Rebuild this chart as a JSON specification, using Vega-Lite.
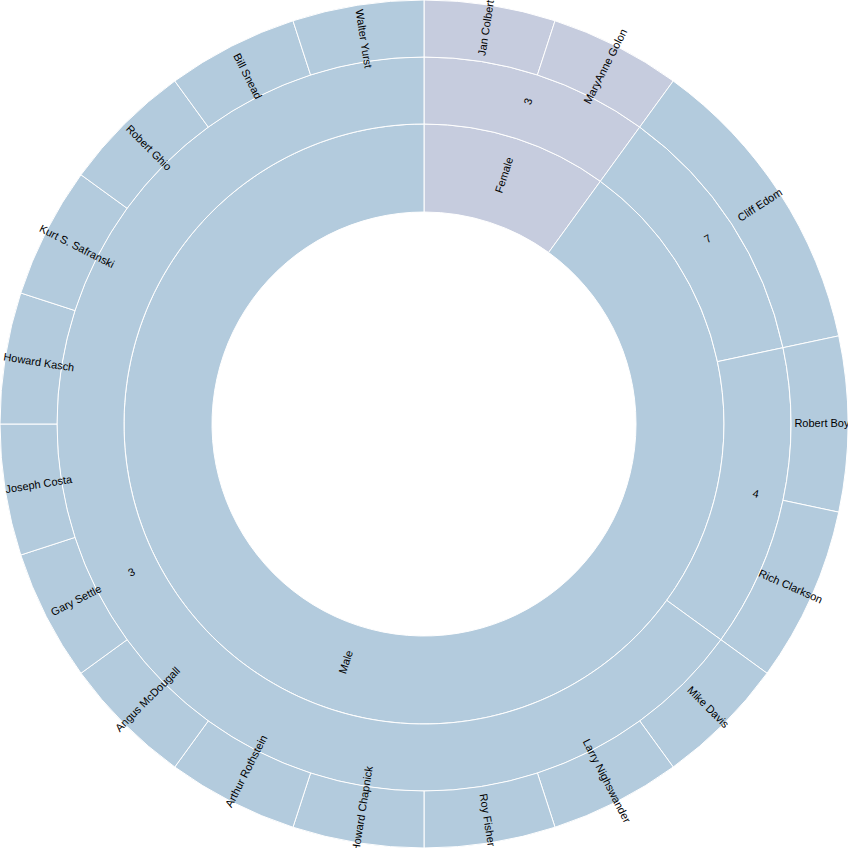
{
  "$schema": "https://vega.github.io/schema/vega-lite/v6.json",
  "width": 848,
  "height": 848,
  "padding": 0,
  "autosize": {"type": "none"},
  "background": "white",
  "view": {"stroke": null},
  "config": {"text": {"font": "Liberation Sans", "fontSize": 11, "color": "black", "align": "center", "baseline": "middle", "dx": 5.5}},
  "data": {
    "values": [
      {"gender": "Female", "group": "3", "name": "Jan Colbert", "count": 3},
      {"gender": "Female", "group": "3", "name": "MaryAnne Golon", "count": 3},
      {"gender": "Male", "group": "7", "name": "Cliff Edom", "count": 7},
      {"gender": "Male", "group": "4", "name": "Robert Boyd", "count": 4},
      {"gender": "Male", "group": "4", "name": "Rich Clarkson", "count": 4},
      {"gender": "Male", "group": "3", "name": "Mike Davis", "count": 3},
      {"gender": "Male", "group": "3", "name": "Larry Nighswander", "count": 3},
      {"gender": "Male", "group": "3", "name": "Roy Fisher", "count": 3},
      {"gender": "Male", "group": "3", "name": "Howard Chapnick", "count": 3},
      {"gender": "Male", "group": "3", "name": "Arthur Rothstein", "count": 3},
      {"gender": "Male", "group": "3", "name": "Angus McDougall", "count": 3},
      {"gender": "Male", "group": "3", "name": "Gary Settle", "count": 3},
      {"gender": "Male", "group": "3", "name": "Joseph Costa", "count": 3},
      {"gender": "Male", "group": "3", "name": "Howard Kasch", "count": 3},
      {"gender": "Male", "group": "3", "name": "Kurt S. Safranski", "count": 3},
      {"gender": "Male", "group": "3", "name": "Robert Ghio", "count": 3},
      {"gender": "Male", "group": "3", "name": "Bill Snead", "count": 3},
      {"gender": "Male", "group": "3", "name": "Walter Yurst", "count": 3}
    ]
  },
  "transform": [
    {"window": [{"op": "row_number", "as": "idx"}]},
    {"stack": "count", "groupby": [], "sort": [{"field": "idx"}], "as": ["t0", "t1"]}
  ],
  "layer": [
    {
      "mark": {"type": "arc", "innerRadius": 212, "outerRadius": 300, "stroke": "white", "strokeWidth": 1},
      "transform": [
        {"aggregate": [{"op": "min", "field": "t0", "as": "a0"}, {"op": "max", "field": "t1", "as": "a1"}], "groupby": ["gender"]}
      ],
      "encoding": {
        "theta": {"field": "a0", "type": "quantitative", "stack": null, "scale": {"domain": [0, 60], "range": [0, 6.283185307179586]}},
        "theta2": {"field": "a1"},
        "color": {"field": "gender", "type": "nominal", "legend": null, "scale": {"domain": ["Female", "Male"], "range": ["#c6ccde", "#b3cbdd"]}}
      }
    },
    {
      "mark": {"type": "arc", "innerRadius": 300, "outerRadius": 367, "stroke": "white", "strokeWidth": 1},
      "transform": [
        {"aggregate": [{"op": "min", "field": "t0", "as": "a0"}, {"op": "max", "field": "t1", "as": "a1"}], "groupby": ["gender", "group"]}
      ],
      "encoding": {
        "theta": {"field": "a0", "type": "quantitative", "stack": null, "scale": {"domain": [0, 60], "range": [0, 6.283185307179586]}},
        "theta2": {"field": "a1"},
        "color": {"field": "gender", "type": "nominal", "legend": null}
      }
    },
    {
      "mark": {"type": "arc", "innerRadius": 367, "outerRadius": 424, "stroke": "white", "strokeWidth": 1},
      "encoding": {
        "theta": {"field": "t0", "type": "quantitative", "stack": null, "scale": {"domain": [0, 60], "range": [0, 6.283185307179586]}},
        "theta2": {"field": "t1"},
        "color": {"field": "gender", "type": "nominal", "legend": null}
      }
    },
    {
      "mark": {"type": "text", "radius": 256},
      "transform": [
        {"aggregate": [{"op": "min", "field": "t0", "as": "a0"}, {"op": "max", "field": "t1", "as": "a1"}], "groupby": ["gender"]},
        {"calculate": "(datum.a0 + datum.a1) / 2", "as": "mid"},
        {"calculate": "datum.mid * 6 < 180 ? datum.mid * 6 - 90 : datum.mid * 6 + 90", "as": "rot"}
      ],
      "encoding": {
        "theta": {"field": "mid", "type": "quantitative", "stack": null, "scale": {"domain": [0, 60], "range": [0, 6.283185307179586]}},
        "angle": {"field": "rot", "type": "quantitative", "scale": null},
        "text": {"field": "gender", "type": "nominal"}
      }
    },
    {
      "mark": {"type": "text", "radius": 333.5},
      "transform": [
        {"aggregate": [{"op": "min", "field": "t0", "as": "a0"}, {"op": "max", "field": "t1", "as": "a1"}], "groupby": ["gender", "group"]},
        {"calculate": "(datum.a0 + datum.a1) / 2", "as": "mid"},
        {"calculate": "datum.mid * 6 < 180 ? datum.mid * 6 - 90 : datum.mid * 6 + 90", "as": "rot"}
      ],
      "encoding": {
        "theta": {"field": "mid", "type": "quantitative", "stack": null, "scale": {"domain": [0, 60], "range": [0, 6.283185307179586]}},
        "angle": {"field": "rot", "type": "quantitative", "scale": null},
        "text": {"field": "group", "type": "nominal"}
      }
    },
    {
      "mark": {"type": "text", "radius": 395.5},
      "transform": [
        {"calculate": "(datum.t0 + datum.t1) / 2", "as": "mid"},
        {"calculate": "datum.mid * 6 < 180 ? datum.mid * 6 - 90 : datum.mid * 6 + 90", "as": "rot"}
      ],
      "encoding": {
        "theta": {"field": "mid", "type": "quantitative", "stack": null, "scale": {"domain": [0, 60], "range": [0, 6.283185307179586]}},
        "angle": {"field": "rot", "type": "quantitative", "scale": null},
        "text": {"field": "name", "type": "nominal"}
      }
    }
  ]
}
